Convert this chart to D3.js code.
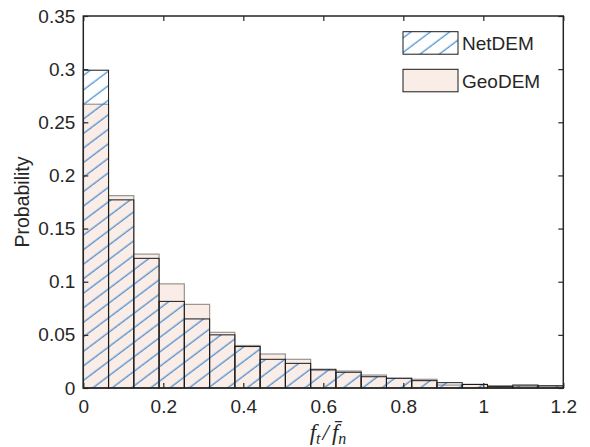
<!DOCTYPE html>
<head>
<meta charset="utf-8">
<style>
  body { margin: 0; background: #fff; }
  text { font-family: "Liberation Sans", Arial, sans-serif; fill: #262626; }
</style>
</head>
<body>
<div id='chart'></div>
<script src="https://cdnjs.cloudflare.com/ajax/libs/d3/7.8.5/d3.min.js"></script>
<script>
// histogram values, 19 bins of equal width over 0..1.2
var binCount = 19;
var xMax = 1.2;
var netDEM = [0.299, 0.177, 0.122, 0.0815, 0.065, 0.050, 0.039, 0.027, 0.0232, 0.0176,
              0.0148, 0.0106, 0.0092, 0.0069, 0.005, 0.0033, 0.0015, 0.002, 0.002];
var geoDEM = [0.267, 0.181, 0.126, 0.098, 0.0787, 0.0524, 0.040, 0.032, 0.027, 0.0165,
              0.016, 0.0122, 0.009, 0.0082, 0.0028, 0.0035, 0.0022, 0.0032, 0.0022];
var xTicks = [0, 0.2, 0.4, 0.6, 0.8, 1, 1.2];
var yTicks = [0, 0.05, 0.1, 0.15, 0.2, 0.25, 0.3, 0.35];
var seriesNames = ['NetDEM', 'GeoDEM'];

drawChart();

function drawChart() {
  var width = 590, height = 447;
  var pLeft = 83.3, pRight = 563.3, pTop = 16, pBottom = 388;

  var svg = d3.select('#chart').append('svg')
    .attr('width', width)
    .attr('height', height);

  var x = d3.scaleLinear().domain([0, xMax]).range([pLeft, pRight]);
  var y = d3.scaleLinear().domain([0, 0.35]).range([pBottom, pTop]);
  var binW = xMax / binCount;

  // hatch pattern, lines rising to the right
  var defs = svg.append('defs');
  var pat = defs.append('pattern')
    .attr('id', 'hatch')
    .attr('patternUnits', 'userSpaceOnUse')
    .attr('width', 20)
    .attr('height', 11.6)
    .attr('patternTransform', 'rotate(-37)');
  pat.append('line')
    .attr('x1', 0).attr('x2', 20)
    .attr('y1', 6).attr('y2', 6)
    .attr('stroke', '#1a72c8')
    .attr('stroke-width', 1);

  var plot = svg.append('g');

  plot.selectAll('rect.geo')
    .data(geoDEM).enter().append('rect')
    .attr('class', 'geo')
    .attr('x', function(d, i) { return x(i * binW); })
    .attr('width', function(d, i) { return x((i + 1) * binW) - x(i * binW); })
    .attr('y', function(d) { return y(d); })
    .attr('height', function(d) { return y(0) - y(d); })
    .attr('fill', '#faece6')
    .attr('stroke', 'rgba(0,0,0,0.4)')
    .attr('stroke-width', 1.2);

  plot.selectAll('rect.net')
    .data(netDEM).enter().append('rect')
    .attr('class', 'net')
    .attr('x', function(d, i) { return x(i * binW); })
    .attr('width', function(d, i) { return x((i + 1) * binW) - x(i * binW); })
    .attr('y', function(d) { return y(d); })
    .attr('height', function(d) { return y(0) - y(d); })
    .attr('fill', 'url(#hatch)')
    .attr('stroke', '#1a1a1a')
    .attr('stroke-width', 1);

  // axes box with inward ticks
  var axisColor = '#262626';
  function styleAxis(g) {
    g.select('.domain').remove();
    g.selectAll('.tick line').attr('stroke', axisColor).attr('stroke-width', 1.2);
    g.selectAll('.tick text').style('font-size', '19px').attr('fill', axisColor)
      .style('font-family', '"Liberation Sans", Arial, sans-serif');
  }
  var fmt = function(d) { return String(d); };

  svg.append('g').attr('transform', 'translate(0,' + pBottom + ')')
    .call(d3.axisBottom(x).tickValues(xTicks).tickFormat(fmt).tickSizeInner(-5).tickSizeOuter(0).tickPadding(12))
    .call(styleAxis);
  svg.append('g').attr('transform', 'translate(0,' + pTop + ')')
    .call(d3.axisTop(x).tickValues(xTicks).tickFormat('').tickSizeInner(-5).tickSizeOuter(0))
    .call(styleAxis);
  svg.append('g').attr('transform', 'translate(' + pLeft + ',0)')
    .call(d3.axisLeft(y).tickValues(yTicks).tickFormat(fmt).tickSizeInner(-5).tickSizeOuter(0).tickPadding(8))
    .call(styleAxis);
  svg.append('g').attr('transform', 'translate(' + pRight + ',0)')
    .call(d3.axisRight(y).tickValues(yTicks).tickFormat('').tickSizeInner(-5).tickSizeOuter(0))
    .call(styleAxis);

  svg.append('rect')
    .attr('x', pLeft).attr('y', pTop)
    .attr('width', pRight - pLeft).attr('height', pBottom - pTop)
    .attr('fill', 'none')
    .attr('stroke', axisColor)
    .attr('stroke-width', 1.5);

  // axis labels
  svg.append('text')
    .attr('transform', 'translate(29,' + ((pTop + pBottom) / 2) + ') rotate(-90)')
    .attr('text-anchor', 'middle')
    .style('font-size', '19.5px')
    .text('Probability');

  var xl = svg.append('text')
    .attr('x', 328)
    .attr('y', 440)
    .attr('text-anchor', 'middle')
    .style('font-family', '"Liberation Serif", "Times New Roman", serif')
    .style('font-style', 'italic')
    .style('font-size', '23px');
  xl.append('tspan').text('f');
  xl.append('tspan').attr('dy', 4).style('font-size', '16px').text('t');
  xl.append('tspan').attr('dy', -4).attr('dx', 2).text('/');
  xl.append('tspan').attr('dx', 3).text('f\u0304');
  xl.append('tspan').attr('dy', 4).style('font-size', '16px').text('n');

  // legend
  var legendItems = [
    {name: seriesNames[0], fill: 'url(#hatch)', y: 31.7},
    {name: seriesNames[1], fill: '#faece6', y: 69.3}
  ];
  var lg = svg.append('g').selectAll('g').data(legendItems).enter().append('g');
  lg.append('rect')
    .attr('x', 403).attr('y', function(d) { return d.y; })
    .attr('width', 55).attr('height', 22.5)
    .attr('fill', function(d) { return d.fill; })
    .attr('stroke', '#1a1a1a')
    .attr('stroke-width', 1);
  lg.append('text')
    .attr('x', 462).attr('y', function(d) { return d.y + 18.5; })
    .style('font-size', '19px')
    .text(function(d) { return d.name; });
}
</script>
</body>
</html>
